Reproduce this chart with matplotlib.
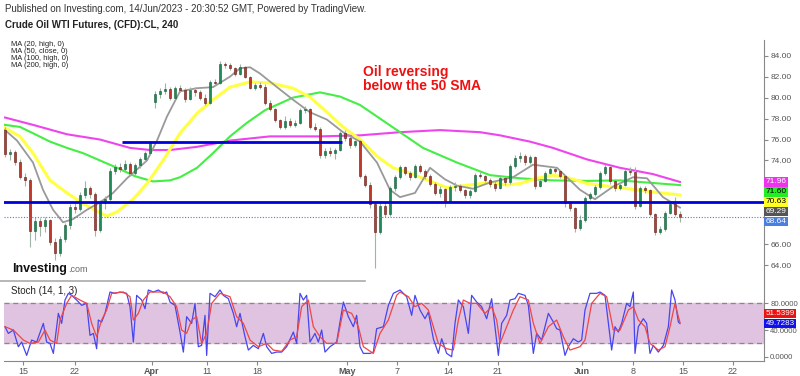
import numpy as np
import matplotlib
matplotlib.use("Agg")
import matplotlib.pyplot as plt
import matplotlib.transforms as mtransforms
from matplotlib.lines import Line2D

plt.rcParams['font.family'] = ['Liberation Sans', 'DejaVu Sans']

# ---- candles (4h bars, one every bar index) ----
opens = [76.9, 74.6, 74.8, 73.9, 72.4, 72.1, 67.3, 68.2, 67.7, 68.3,
         66.2, 65.2, 66.5, 67.8, 69.6, 69.4, 70.7, 71.4, 70.8, 67.4,
         69.9, 70.3, 73.0, 73.4, 73.2, 73.7, 72.8, 73.6, 74.1, 74.7,
         79.6, 80.3, 80.6, 80.8, 80.0, 80.9, 80.7, 79.9, 80.7, 80.5,
         80.0, 79.5, 81.5, 81.4, 83.2, 83.1, 82.8, 82.3, 82.9, 82.0,
         80.9, 81.2, 81.0, 79.5, 78.9, 77.9, 77.2, 77.8, 77.4, 77.6,
         78.8, 78.9, 77.2, 77.0, 74.5, 74.9, 74.7, 75.0, 76.6, 76.1,
         75.5, 75.9, 72.5, 71.7, 69.8, 67.2, 69.7, 68.9, 71.4, 72.4,
         73.4, 72.8, 72.4, 73.5, 73.0, 72.5, 71.8, 70.9, 71.3, 70.1,
         71.5, 71.6, 71.2, 70.7, 71.1, 72.6, 72.5, 72.1, 71.8, 71.4,
         72.3, 71.9, 73.5, 74.2, 74.4, 73.9, 74.3, 71.6, 72.0, 72.8,
         73.2, 73.0, 72.5, 69.9, 69.5, 67.6, 68.3, 70.4, 70.8, 71.5,
         72.8, 73.4, 72.0, 71.4, 71.7, 73.0, 72.9, 69.7, 71.4, 71.2,
         68.9, 67.2, 67.5, 69.0, 69.8, 68.9]
highs = [77.2, 75.1, 75.0, 74.1, 72.8, 72.3, 68.6, 68.5, 68.6, 68.4,
         66.6, 66.8, 68.0, 69.8, 70.0, 71.0, 72.0, 71.6, 71.0, 70.2,
         70.6, 73.3, 73.7, 73.8, 74.0, 73.9, 73.8, 74.3, 74.9, 75.9,
         80.6, 80.9, 81.4, 81.0, 81.1, 81.2, 80.9, 81.0, 81.0, 80.7,
         80.3, 81.7, 81.8, 83.5, 83.4, 83.3, 82.9, 83.2, 83.0, 82.1,
         81.4, 81.5, 81.3, 79.8, 79.0, 78.0, 78.2, 78.1, 77.9, 79.0,
         79.2, 79.0, 77.6, 77.2, 75.2, 75.3, 75.2, 76.8, 76.9, 76.3,
         76.0, 76.0, 72.7, 71.9, 70.0, 69.9, 70.0, 71.6, 72.6, 73.6,
         73.5, 73.0, 73.7, 73.7, 73.2, 72.7, 71.9, 71.6, 71.4, 71.7,
         71.9, 71.8, 71.3, 71.3, 72.8, 72.9, 72.6, 72.3, 72.0, 72.5,
         72.5, 73.7, 74.5, 74.8, 74.6, 74.5, 74.4, 72.2, 73.0, 73.5,
         73.4, 73.1, 72.6, 70.1, 69.6, 68.8, 70.6, 71.0, 71.7, 73.0,
         73.7, 73.5, 72.2, 71.9, 73.2, 73.4, 73.4, 71.6, 71.6, 71.3,
         69.0, 67.7, 69.2, 70.0, 70.5, 69.2]
lows = [74.3, 74.0, 73.6, 72.2, 71.6, 65.7, 66.4, 66.8, 67.2, 65.9,
        64.5, 64.9, 66.2, 67.5, 69.0, 69.2, 70.4, 70.4, 66.8, 67.2,
        69.4, 70.1, 72.7, 72.9, 72.9, 72.5, 72.6, 73.3, 73.9, 74.5,
        79.0, 80.0, 80.3, 79.8, 79.9, 80.5, 79.6, 79.8, 80.2, 79.8,
        79.3, 79.4, 81.2, 81.3, 82.8, 82.6, 82.1, 82.2, 81.9, 80.8,
        80.7, 80.8, 79.3, 78.7, 77.7, 77.0, 77.0, 77.2, 77.2, 77.5,
        78.5, 77.0, 76.8, 74.2, 74.2, 74.4, 74.1, 74.9, 75.9, 75.2,
        75.3, 72.3, 71.5, 69.5, 63.7, 67.0, 68.6, 68.7, 71.1, 72.2,
        72.6, 72.1, 72.3, 72.8, 72.2, 71.6, 70.7, 70.5, 69.6, 70.0,
        71.1, 71.0, 70.4, 70.4, 71.0, 72.3, 71.9, 71.5, 71.1, 71.3,
        71.7, 71.8, 73.3, 73.9, 73.6, 73.7, 71.3, 71.5, 71.9, 72.7,
        72.8, 72.3, 69.6, 69.2, 67.2, 67.4, 68.1, 70.2, 70.6, 71.3,
        72.6, 71.8, 71.1, 71.2, 71.6, 72.6, 69.4, 69.6, 70.9, 68.7,
        66.9, 67.0, 67.3, 68.9, 68.7, 68.1]
closes = [74.6, 74.8, 73.9, 72.4, 72.1, 67.3, 68.2, 67.7, 68.3, 66.2,
          65.2, 66.5, 67.8, 69.6, 69.4, 70.7, 71.4, 70.8, 67.4, 69.9,
          70.3, 73.0, 73.4, 73.2, 73.7, 72.8, 73.6, 74.1, 74.7, 75.7,
          80.3, 80.6, 80.8, 80.0, 80.9, 80.7, 79.9, 80.7, 80.5, 80.0,
          79.5, 81.5, 81.4, 83.2, 83.1, 82.8, 82.3, 82.9, 82.0, 80.9,
          81.2, 81.0, 79.5, 78.9, 77.9, 77.2, 77.8, 77.4, 77.6, 78.8,
          78.9, 77.2, 77.0, 74.5, 74.9, 74.7, 75.0, 76.6, 76.1, 75.5,
          75.9, 72.5, 71.7, 69.8, 67.2, 69.7, 68.9, 71.4, 72.4, 73.4,
          72.8, 72.4, 73.5, 73.0, 72.5, 71.8, 70.9, 71.3, 70.1, 71.5,
          71.6, 71.2, 70.7, 71.1, 72.6, 72.5, 72.1, 71.8, 71.4, 72.3,
          71.9, 73.5, 74.2, 74.4, 73.9, 74.3, 71.6, 72.0, 72.8, 73.2,
          73.0, 72.5, 69.9, 69.5, 67.6, 68.3, 70.4, 70.8, 71.5, 72.8,
          73.4, 72.0, 71.4, 71.7, 73.0, 72.9, 69.7, 71.4, 71.2, 68.9,
          67.2, 67.5, 69.0, 69.8, 68.9, 68.64]

# ---- moving averages (x in bar index) ----
ma20_x = [0, 2.4, 5.6, 7.6, 9.6, 11.6, 13.6, 16.4, 19, 21.6, 24.4, 27, 28.4, 30.4,
          32.4, 35, 38.4, 41.6, 45, 47, 49, 51, 54.4, 57.6, 61, 64.4, 67.6, 71,
          74.4, 77, 79, 82, 85, 88, 90.4, 93.6, 97, 101.6, 105.6, 110.4, 115,
          118, 121.6, 125.6, 128.4, 131.6, 135]
ma20_y = [76.9, 75.9, 73.8, 71.2, 69.3, 68.1, 68.4, 69.3, 70.0, 70.9, 72.3, 73.4,
          74.0, 75.9, 78.2, 80.6, 80.9, 81.0, 82.0, 82.8, 82.9, 82.3, 81.0, 79.8,
          78.6, 77.9, 76.7, 75.8, 73.8, 71.2, 70.5, 70.9, 73.3, 72.2, 71.6, 71.3,
          71.9, 72.4, 73.6, 73.3, 71.2, 70.3, 71.5, 72.4, 72.3, 70.5, 69.5]
ma50_x = [0, 3, 5.6, 9, 12.4, 15.6, 19, 20.4, 22.4, 25.6, 28.4, 31.6, 35, 38.4,
          41.6, 45, 49, 53, 57.6, 61, 64.4, 67.6, 71, 74.4, 77.6, 80.4, 83.6,
          88.4, 93.6, 97, 100.4, 103, 106.4, 109.6, 113, 116.4, 123, 129.6, 135]
ma50_y = [77.1, 76.3, 74.7, 72.1, 70.9, 69.9, 69.0, 68.7, 69.1, 70.3, 71.8, 74.0,
          76.6, 78.5, 79.8, 81.0, 81.5, 81.4, 80.9, 80.05, 78.6, 77.2, 76.0, 74.4,
          73.3, 72.9, 72.3, 71.4, 71.7, 71.9, 71.65, 71.8, 72.3, 72.6, 72.3, 71.8,
          71.4, 71.0, 70.7]
ma100_x = [0, 3, 5.6, 9, 12.4, 15.6, 19, 22.4, 26, 29.6, 33, 35, 38.4, 41.6, 45,
           48.4, 52, 57.6, 63, 67, 71, 75, 79, 83.6, 90.4, 97, 103, 109.6, 116.4,
           123, 129.6, 135]
ma100_y = [77.4, 77.2, 76.6, 75.8, 75.2, 74.7, 74.0, 73.3, 72.5, 72.0, 72.1, 72.4,
           73.3, 74.7, 76.3, 77.6, 78.8, 80.0, 80.5, 80.1, 79.3, 78.0, 76.7, 75.2,
           73.8, 72.6, 72.3, 72.1, 72.05, 72.1, 71.85, 71.65]
ma200_x = [0, 5.6, 12.4, 19, 25, 29, 33, 38.4, 45, 53, 63, 71, 79, 87, 95, 99,
           105, 109.6, 116.4, 123, 129.6, 135]
ma200_y = [78.1, 77.4, 76.5, 76.0, 75.2, 75.0, 75.0, 75.3, 75.9, 76.3, 76.3, 76.4,
           76.7, 76.9, 76.7, 76.4, 75.8, 75.2, 74.1, 73.3, 72.7, 71.95]

support = 70.0
resistance = 75.8
resistance_span = [23.4, 67.4]
last_price = 68.64

price_ticks = [64, 66, 68, 70, 72, 74, 76, 78, 80, 82, 84]
hidden_ticks = [68, 70, 72]  # covered by the value tags in the original

right_labels = ["71.96", "71.60", "70.63", "69.29", "68.64"]
right_colors = ["#ee33ee", "#22ee22", "#ffff22", "#555555", "#4a7fe0"]
right_text = ["white", "black", "black", "white", "white"]

# ---- stochastic (14, 1, 3) ----
k_x = [0, 0.67, 1.67, 2.67, 3.33, 4.33, 5.33, 6.33, 7.67, 8.33, 9, 9.67, 10.67,
       11.33, 12, 12.67, 13.33, 14.33, 15.33, 16.33, 17, 17.67, 18.33, 18.67, 19.33,
       20, 21, 22, 23, 24.33, 25, 25.67, 26.33, 27.33, 28, 28.67, 29.67, 30.67,
       31.67, 32.33, 33, 34, 35, 35.67, 36.33, 37.33, 38, 38.67, 39.33, 40, 40.33,
       41, 42, 43, 43.67, 44.67, 45.67, 46.33, 47, 48, 48.67, 49.67, 50.67, 51.67,
       52.33, 53.33, 54.33, 55.33, 56.33, 57.67, 58.33, 59, 59.67, 60.33, 61, 62,
       62.67, 63.33, 64, 65, 66.33, 67.67, 68.67, 69.67, 70.33, 71, 71.67, 73,
       73.67, 74.33, 75.67, 76.67, 77.67, 79, 80.33, 81.33, 82, 83, 84, 84.67,
       85.67, 86.67, 87.33, 88.33, 89.33, 90, 90.67, 91.67, 92.67, 93.33, 94.33,
       95.33, 96.33, 97.33, 98, 98.67, 99.33, 100.33, 101, 102, 102.67, 104,
       104.67, 105.67, 106.33, 107.33, 108.67, 109.67, 110.33, 111, 112, 112.67,
       113.67, 114.67, 115.33, 116, 117, 118.33, 119, 120, 120.67, 121.33, 122,
       122.67, 123.33, 124.33, 125, 125.67, 126, 126.67, 127.67, 128.33, 129,
       129.67, 130.67, 131.67, 132.67, 133.33, 134, 134.67, 135]
k_y = [45, 35, 40, 15, 22, 2, 25, 22, 50, 22, 20, 5, 65, 50, 85, 95, 92, 85, 77,
       80, 32, 35, 12, 55, 52, 65, 97, 95, 97, 95, 75, 22, 92, 85, 72, 100, 97,
       100, 95, 97, 82, 77, 37, 7, 60, 50, 80, 15, 17, 62, 2, 95, 90, 100, 92, 87,
       65, 45, 65, 30, 10, 17, 12, 35, 15, 5, 7, 7, 15, 37, 20, 95, 85, 92, 22,
       35, 22, 40, 7, 15, 22, 82, 60, 45, 62, 15, 5, 5, 7, 42, 45, 77, 95, 100,
       90, 62, 92, 70, 57, 67, 27, 5, 27, 5, 0, 50, 85, 75, 35, 92, 82, 75, 57,
       87, 45, 2, 50, 62, 85, 87, 95, 92, 77, 5, 35, 25, 65, 52, 42, 40, 2, 15,
       27, 22, 25, 70, 95, 95, 97, 92, 50, 10, 45, 37, 50, 80, 75, 97, 5, 45, 57,
       50, 5, 17, 7, 17, 45, 100, 85, 52, 49.73]
d_x = [0, 1.67, 3.67, 5, 6.67, 8, 9, 10.33, 11, 12.33, 13.33, 15, 16.33, 17.33,
       18.33, 19.33, 20.33, 21.33, 23.67, 25, 25.67, 26.67, 27.67, 29, 31.67, 33,
       34.33, 35.33, 36.33, 37.33, 38.33, 39.33, 40.33, 41.33, 43, 45, 46.33,
       47.67, 49, 50.67, 52.33, 53.67, 55.33, 57, 58.33, 59.33, 60.67, 61.67, 63,
       64.33, 66.33, 67.67, 69.33, 70.67, 71.67, 73.67, 75, 76.67, 78.33, 79,
       80.67, 82, 83.33, 84.67, 85.67, 86.67, 88.33, 89.67, 90.67, 91.67, 93,
       94.33, 96, 97.33, 98.33, 99, 100.33, 101.67, 103, 104.67, 105.67, 107,
       108.67, 110.33, 111.67, 113, 115, 116, 117.33, 119, 120.33, 121.67, 123,
       124.67, 125.67, 126.67, 128, 129, 130.67, 132, 133, 134, 134.67, 135]
d_y = [45, 40, 25, 20, 22, 40, 25, 20, 55, 80, 92, 85, 80, 50, 30, 55, 70, 95,
       97, 90, 55, 65, 85, 97, 97, 90, 75, 40, 35, 55, 60, 20, 35, 80, 95, 90,
       60, 50, 25, 15, 20, 10, 8, 25, 30, 75, 85, 45, 30, 20, 20, 70, 65, 45, 15,
       5, 35, 55, 92, 97, 90, 75, 80, 70, 45, 20, 12, 10, 55, 85, 80, 80, 65, 75,
       55, 20, 45, 70, 90, 85, 50, 20, 45, 55, 30, 10, 15, 25, 80, 95, 90, 40, 40,
       70, 75, 55, 45, 20, 10, 15, 45, 80, 60, 51.54]
k_last, d_last = 49.7283, 51.5399

tick_pos = [3.6, 14, 29.4, 40.4, 50.4, 68.4, 78.4, 88.6, 98.6, 115.4, 125.6, 135.6, 145.6]
tick_lab = ["15", "22", "Apr", "11", "18", "May", "7", "14", "21", "Jun", "8", "15", "22"]

W, H = 800, 376
fig = plt.figure(figsize=(W / 100, H / 100), dpi=100)
ax = fig.add_axes([4 / W, 1 - 282 / H, 760 / W, 242 / H])
ax2 = fig.add_axes([4 / W, 1 - 361 / H, 760 / W, 78 / H])

x = np.arange(len(closes))
o = np.array(opens)
c = np.array(closes)
up = c >= o
ax.vlines(x, lows, highs, color="#9fb3a6", lw=0.8, zorder=2)
ax.bar(x[up], (c - o)[up], bottom=o[up], width=0.55, color="#1f8a55",
       edgecolor="#145c38", lw=0.4, zorder=3)
ax.bar(x[~up], (c - o)[~up], bottom=o[~up], width=0.55, color="#c0392b",
       edgecolor="#5a1a14", lw=0.4, zorder=3)

ax.plot(ma200_x, ma200_y, color="#ee44ee", lw=1.5, zorder=1)
ax.plot(ma100_x, ma100_y, color="#44ee44", lw=1.5, zorder=1)
ax.plot(ma50_x, ma50_y, color="#ffff44", lw=2.2, zorder=1)
ax.plot(ma20_x, ma20_y, color="#999999", lw=1.3, zorder=1)

ax.axhline(support, color="#0000dd", lw=2, zorder=4)
ax.hlines(resistance, resistance_span[0], resistance_span[1], color="#0000dd", lw=2, zorder=4)
ax.axhline(last_price, color="#4a7fe0", lw=0.8, ls=(0, (1, 1.5)), zorder=4)

ax.set_xlim(-0.2, 151.8)
ax.set_ylim(62.4, 85.5)
ax.set_xticks([])
ax.yaxis.tick_right()
ax.set_yticks(price_ticks)
ax.set_yticklabels(["" if v in hidden_ticks else f"{v:.2f}" for v in price_ticks])
for a in (ax, ax2):
    for s in ("top", "left"):
        a.spines[s].set_visible(False)
    a.spines["right"].set_color("#888888")
    a.tick_params(axis="y", length=3, color="#888888", labelsize=6,
                  labelcolor="#555555", pad=2)
ax.spines["bottom"].set_visible(False)

# right-hand value tags
tr = mtransforms.blended_transform_factory(ax.transAxes, ax.transData)
vals = [float(v) for v in right_labels]
prev = None
for v, lab, bg, fg in zip(vals, right_labels, right_colors, right_text):
    yv = v if prev is None else min(v, prev - 0.95)
    prev = yv
    ax.text(1.002, yv, lab, transform=tr, fontsize=6, color=fg, va="center",
            ha="left", bbox=dict(facecolor=bg, edgecolor="none", pad=0.9), zorder=6,
            clip_on=False)

# stochastic panel
ax2.axhspan(20, 80, color="#dfc3e0", zorder=0)
ax2.axhline(80, color="#888888", lw=0.9, ls=(0, (4, 3)))
ax2.axhline(20, color="#888888", lw=0.9, ls=(0, (4, 3)))
ax2.plot(k_x, k_y, color="#4646f0", lw=0.9)
ax2.plot(d_x, d_y, color="#f04646", lw=0.9)
ax2.set_xlim(-0.2, 151.8)
ax2.set_ylim(-6.4, 110.5)
ax2.yaxis.tick_right()
ax2.set_yticks([0, 40, 80])
ax2.set_yticklabels(["0.0000", "40.0000", "80.0000"])
ax2.tick_params(axis="y", labelsize=5.6, pad=1.5)
ax2.spines["bottom"].set_color("#888888")
ax2.set_xticks(tick_pos)
ax2.set_xticklabels(tick_lab)
ax2.tick_params(axis="x", length=3, color="#888888", labelsize=6.5,
                labelcolor="#555555", pad=1)
for t in ax2.get_xticklabels():
    if t.get_text() in ("Apr", "May", "Jun"):
        t.set_fontweight("bold")

tr2 = mtransforms.blended_transform_factory(ax2.transAxes, ax2.transData)
d_pos = max(d_last, k_last + 15)
ax2.text(1.002, d_pos, f"{d_last:.4f}", transform=tr2, fontsize=5.8, color="white",
         va="center", ha="left", bbox=dict(facecolor="#ee1111", edgecolor="none", pad=0.9),
         clip_on=False, zorder=6)
ax2.text(1.002, k_last, f"{k_last:.4f}", transform=tr2, fontsize=5.8, color="white",
         va="center", ha="left", bbox=dict(facecolor="#1111ee", edgecolor="none", pad=0.9),
         clip_on=False, zorder=6)

# texts
def fy(py):
    return 1 - py / H

fig.text(5 / W, fy(9), "Published on Investing.com, 14/Jun/2023 - 20:30:52 GMT, Powered by TradingView.",
         fontsize=7, color="#333333", va="center")
fig.text(5 / W, fy(25), "Crude Oil WTI Futures, (CFD):CL, 240", fontsize=7,
         fontweight="bold", color="#222222", va="center")
for i, s in enumerate(["MA (20, high, 0)", "MA (50, close, 0)",
                       "MA (100, high, 0)", "MA (200, high, 0)"]):
    fig.text(11 / W, fy(44 + 7.3 * i), s, fontsize=5.4, color="#222222", va="center")
fig.text(363 / W, fy(72), "Oil reversing", fontsize=10, fontweight="bold",
         color="#ee1111", va="center")
fig.text(363 / W, fy(86), "below the 50 SMA", fontsize=10, fontweight="bold",
         color="#ee1111", va="center")
fig.text(12 / W, fy(272), "Investing", fontsize=9, fontweight="bold",
         color="#111111", va="baseline")
fig.text(68 / W, fy(272), ".com", fontsize=6.5, color="#666666", va="baseline")
fig.text(11 / W, fy(291), "Stoch (14, 1, 3)", fontsize=7, color="#222222", va="center")
fig.add_artist(Line2D([0, 365 / W], [fy(281), fy(281)], color="#aaaaaa", lw=1.2,
                      transform=fig.transFigure))

fig.savefig("out.png", dpi=100)
